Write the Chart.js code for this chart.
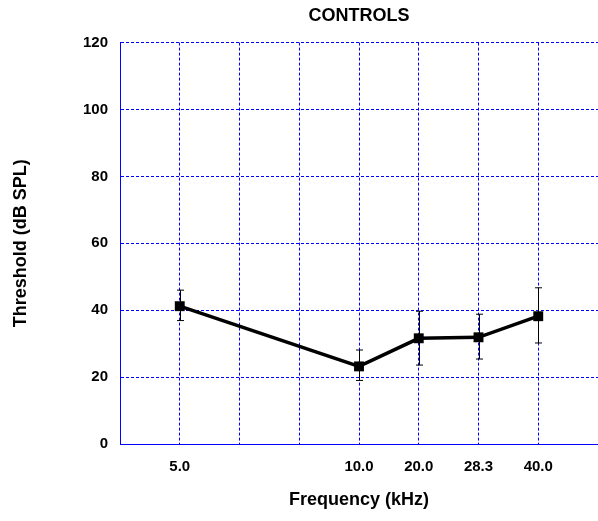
<!DOCTYPE html>
<html>
<head>
<meta charset="utf-8">
<script src="https://cdn.jsdelivr.net/npm/chart.js@4"></script>
<style>
  html, body { margin: 0; padding: 0; background: #fff; }
  #wrap { width: 598px; height: 521px; }
</style>
</head>
<body>
<div id="wrap"><canvas id="chart"></canvas></div>
<script>
// x axis slots (the figure puts 5.0 on its own, then 10..40 side by side)
var axisLabels = ['', '5.0', '', '', '10.0', '20.0', '28.3', '40.0', ''];
var freqs = ['5.0', '10.0', '20.0', '28.3', '40.0'];
var threshold = [41.2, 23.2, 31.6, 31.9, 38.2];
var errHigh = [46.0, 28.1, 39.7, 38.8, 46.7];
var errLow = [36.9, 19.0, 23.6, 25.4, 30.2];
var yTicks = [0, 20, 40, 60, 80, 100, 120];

var fontFam = '"Liberation Sans", Arial, sans-serif';
var blue = '#0000ff';

var points = [];
for (var i = 0; i < freqs.length; i++) {
    points.push({ x: freqs[i], y: threshold[i] });
}

// error bars, drawn under the markers
var errorBars = {
    id: 'errorBars',
    beforeDatasetsDraw: function (chart) {
        var ctx = chart.ctx;
        var xs = chart.scales.x;
        var ys = chart.scales.y;
        ctx.save();
        ctx.strokeStyle = '#000';
        ctx.lineWidth = 1;
        for (var i = 0; i < freqs.length; i++) {
            var px = Math.round(xs.getPixelForValue(axisLabels.indexOf(freqs[i]))) + 0.5;
            var top = ys.getPixelForValue(errHigh[i]);
            var bot = ys.getPixelForValue(errLow[i]);
            ctx.beginPath();
            ctx.moveTo(px, top);
            ctx.lineTo(px, bot);
            ctx.moveTo(px - 3.5, top);
            ctx.lineTo(px + 3.5, top);
            ctx.moveTo(px - 3.5, bot);
            ctx.lineTo(px + 3.5, bot);
            ctx.stroke();
        }
        ctx.restore();
    }
};

new Chart(document.getElementById('chart'), {
    type: 'line',
    data: {
        labels: axisLabels,
        datasets: [{
            data: points,
            borderColor: '#000',
            backgroundColor: '#000',
            borderWidth: 3.5,
            pointStyle: 'rect',
            pointRadius: 7,
            pointBorderWidth: 0,
            pointBackgroundColor: '#000',
            tension: 0,
            clip: false
        }]
    },
    options: {
        responsive: true,
        maintainAspectRatio: false,
        animation: false,
        layout: {
            autoPadding: false,
            padding: { left: 0, right: -2, top: 0, bottom: 0 }
        },
        plugins: {
            legend: { display: false },
            tooltip: { enabled: false },
            title: {
                display: true,
                fullSize: false,
                text: 'CONTROLS',
                color: '#000',
                font: { family: fontFam, size: 18, weight: 'bold' },
                padding: { top: 5, bottom: 16 }
            }
        },
        scales: {
            x: {
                type: 'category',
                offset: false,
                grid: { color: blue, lineWidth: 1, drawTicks: false },
                border: { display: true, color: blue, width: 1, dash: [3, 2] },
                ticks: {
                    color: '#000',
                    padding: 14,
                    autoSkip: false,
                    maxRotation: 0,
                    font: { family: fontFam, size: 15, weight: 'bold' }
                },
                title: {
                    display: true,
                    text: 'Frequency (kHz)',
                    color: '#000',
                    font: { family: fontFam, size: 18, weight: 'bold' },
                    padding: { top: 0, bottom: 10 }
                },
                afterFit: function (scale) {
                    scale.height = 77;
                    scale.paddingLeft = 0;
                    scale.paddingRight = 0;
                }
            },
            y: {
                min: 0,
                max: 120,
                afterBuildTicks: function (scale) {
                    scale.ticks = yTicks.map(function (v) { return { value: v }; });
                },
                grid: { color: blue, lineWidth: 1, drawTicks: false },
                border: { display: true, color: blue, width: 1, dash: [3, 2] },
                ticks: {
                    color: '#000',
                    padding: 12,
                    font: { family: fontFam, size: 15, weight: 'bold' }
                },
                title: {
                    display: true,
                    text: 'Threshold (dB SPL)',
                    color: '#000',
                    font: { family: fontFam, size: 18, weight: 'bold' },
                    padding: { top: 10, bottom: 0 }
                },
                afterFit: function (scale) {
                    scale.width = 120;
                    scale.paddingTop = 0;
                    scale.paddingBottom = 0;
                }
            }
        }
    },
    plugins: [errorBars]
});
</script>
</body>
</html>
